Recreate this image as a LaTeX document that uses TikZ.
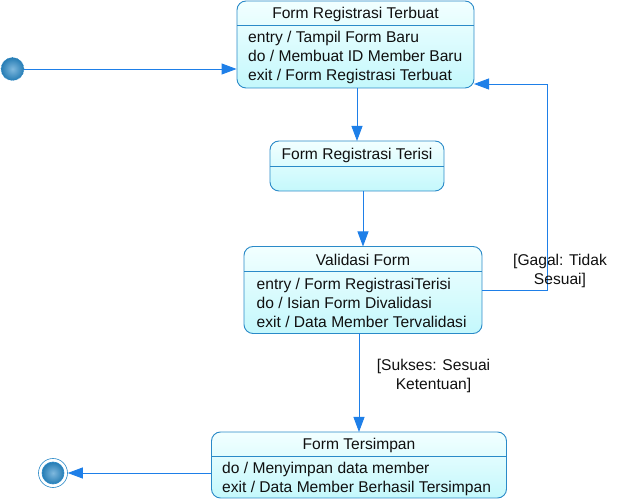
\documentclass[tikz,border=0pt]{standalone}
\usepackage{fontspec}
\setmainfont{Liberation Sans}
\usetikzlibrary{arrows.meta,calc}
\definecolor{bord}{HTML}{2A8AC8}
\definecolor{arr}{HTML}{1E7FE8}
\definecolor{topc}{HTML}{F2FFFF}
\definecolor{botc}{HTML}{C4F8FC}
\definecolor{txt}{HTML}{101010}
\tikzset{
  statebox/.style={draw=bord, line width=0.9pt, rounded corners=9pt, top color=topc, bottom color=botc, inner sep=0pt},
  sep/.style={draw=bord, line width=0.9pt},
  ttl/.style={font=\fontsize{15.6}{17}\selectfont, text=txt, inner sep=0pt, anchor=center},
  act/.style={font=\fontsize{15.6}{19}\selectfont, text=txt, inner sep=0pt, anchor=west, align=left},
  conn/.style={draw=arr, line width=0.9pt, -{Triangle[length=15pt,width=11pt]}},
  lbl/.style={font=\fontsize{15.6}{19}\selectfont, text=txt, align=center, inner sep=0pt},
}
\begin{document}
\begin{tikzpicture}[x=1pt,y=-1pt]
\useasboundingbox (0,0) rectangle (627,502);
% state 1
\node[statebox, minimum width=237pt, minimum height=87pt] (s1) at (355.5,44.5) {};
\draw[sep] (237,25) -- (474,25);
\node[ttl] (t1) at (355.5,14) {Form Registrasi Terbuat};
\node[act] (a1) at (248,57.5) {entry / Tampil Form Baru\\do / Membuat ID Member Baru\\exit / Form Registrasi Terbuat};
% state 2
\node[statebox, minimum width=174pt, minimum height=50pt] (s2) at (357,166) {};
\draw[sep] (270,166.5) -- (444,166.5);
\node[ttl] (t2) at (357,155) {Form Registrasi Terisi};
% state 3
\node[statebox, minimum width=238pt, minimum height=87pt] (s3) at (363,290) {};
\draw[sep] (244,271.5) -- (482,271.5);
\node[ttl] (t3) at (363,260) {Validasi Form};
\node[act] (a3) at (256.5,303) {entry / Form RegistrasiTerisi\\do / Isian Form Divalidasi\\exit / Data Member Tervalidasi};
% state 4
\node[statebox, minimum width=295pt, minimum height=66pt] (s4) at (359,465) {};
\draw[sep] (211.5,456) -- (506.5,456);
\node[ttl] (t4) at (359,445) {Form Tersimpan};
\node[act] (a4) at (222,479) {do / Menyimpan data member\\exit / Data Member Berhasil Tersimpan};
% initial and final
\node[circle, draw=bord, densely dotted, line width=0.6pt, minimum size=23pt, inner sep=0pt, shading=radial, inner color=white!40!bord, outer color=bord!90!black] (init) at (12.5,69) {};
\node[circle, draw=bord, line width=0.6pt, fill=white, minimum size=29pt, inner sep=0pt] (fin) at (53,473) {};
\node[circle, draw=bord, line width=0.6pt, minimum size=22pt, inner sep=0pt, shading=radial, inner color=white!40!bord, outer color=bord!90!black] (finin) at (53,473) {};
% connectors
\coordinate (c1) at (474,84);
\coordinate (c2) at (547.5,84);
\coordinate (c3) at (547.5,290);
\draw[conn] (init) -- (init -| s1.west);
\draw[conn] (357,88) -- (357,141);
\draw[conn] (363,191) -- (363,246.5);
\draw[conn] (359,333.5) -- (359,432);
\draw[conn] (s4.west |- fin) -- (fin);
\draw[conn] (s3.east |- c3) -- (c3) -- (c2) -- (c1);
% labels
\node[lbl] (g) at (560,271) {[Gagal: Tidak\\Sesuai]};
\node[lbl] (k) at (433.5,376) {[Sukses: Sesuai\\Ketentuan]};
\end{tikzpicture}
\end{document}
